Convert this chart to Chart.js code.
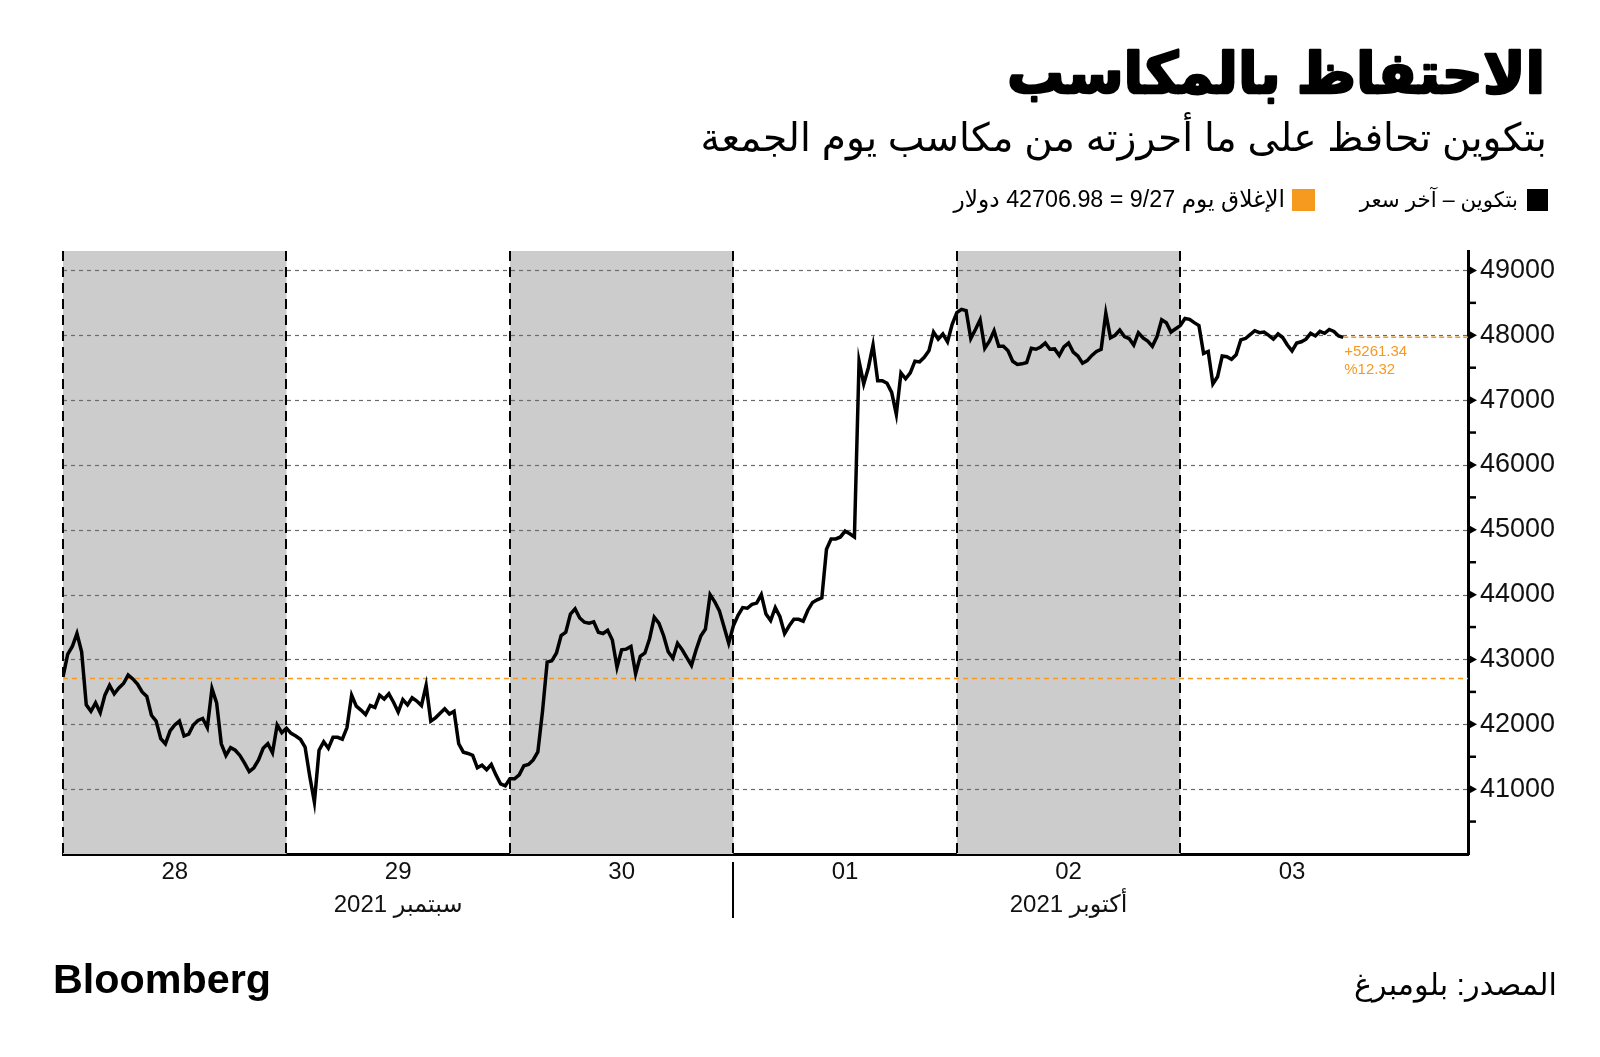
<!DOCTYPE html>
<html lang="ar">
<head>
<meta charset="utf-8">
<script src="https://cdn.jsdelivr.net/npm/chart.js@4.4.1/dist/chart.umd.min.js"></script>
<style>
html,body{margin:0;padding:0;background:#fff;}
#chart{position:absolute;left:0;top:0;}
</style>
</head>
<body>
<canvas id="chart" width="1600" height="1057"></canvas>
<script>

// bitcoin price, one reading every half hour from 28 Sep 00:00
const STEP_HOURS=0.5;

const prices=[
// 28 Sep
42730,43080,43200,43400,43120,42300,42200,42330,42180,42450,
42600,42470,42560,42630,42760,42700,42620,42500,42430,42140,
42050,41780,41700,41900,41990,42050,41820,41850,41990,42060,
42090,41950,42550,42330,41700,41520,41640,41600,41520,41400,
41270,41330,41450,41630,41700,41560,41990,41870,
// 29 Sep
41940,41860,41820,41770,41650,41200,40800,41600,41730,41630,
41800,41800,41770,41950,42450,42280,42220,42150,42290,42260,
42450,42390,42470,42340,42190,42380,42300,42410,42360,42290,
42600,42050,42100,42170,42240,42160,42200,41700,41570,41550,
41520,41330,41370,41300,41380,41220,41080,41050,
// 30 Sep
41160,41160,41220,41360,41380,41450,41575,42200,42960,42980,
43100,43370,43420,43700,43780,43640,43575,43560,43580,43420,
43400,43450,43300,42880,43150,43160,43200,42780,43050,43100,
43320,43650,43560,43370,43120,43020,43250,43150,43030,42910,
43150,43360,43470,44000,43890,43750,43500,43250,
// 01 Oct
43520,43680,43800,43790,43850,43870,44000,43700,43600,43800,
43660,43400,43520,43620,43620,43590,43760,43880,43920,43950,
44700,44860,44860,44890,44980,44940,44890,47600,47250,47500,
47850,47300,47300,47260,47120,46780,47420,47330,47420,47600,
47590,47660,47760,48050,47940,48020,47900,48170,
// 02 Oct
48350,48400,48380,47950,48090,48240,47800,47910,48070,47830,
47830,47760,47600,47550,47560,47580,47800,47785,47820,47880,
47785,47790,47690,47820,47880,47740,47680,47570,47610,47690,
47750,47785,48340,47960,48000,48080,47980,47950,47850,48040,
47960,47910,47830,47980,48240,48195,48050,48100,
// 03 Oct
48150,48260,48245,48195,48150,47720,47750,47250,47360,47680,
47670,47630,47700,47930,47950,48010,48070,48040,48050,48000,
47940,48020,47965,47850,47760,47880,47900,47940,48030,47990,
48060,48030,48090,48060,47990,47968.32
];

const closeSep27=42706.98;
const lastPrice=47968.32;
const changeText="+5261.34";
const changePct="%12.32";

const dayStarts=[0,24,48,72,96,120];
const shadedDays=[0,2,4];
const dayCenters=[12,36,60,84,108,132];
const dayLabels=["28","29","30","01","02","03"];
const monthLabels=[{at:36,text:"سبتمبر 2021"},{at:108,text:"أكتوبر 2021"}];
const monthBreak=72;

const yTicks=[41000,42000,43000,44000,45000,46000,47000,48000,49000];
const yMinor=[40500,41500,42500,43500,44500,45500,46500,47500,48500];
const Y_MIN=40000, Y_MAX=49300, X_MAX=150.9;

const ORANGE="#f59a1f";
const AR="'Liberation Sans','DejaVu Sans',sans-serif";

const pricePoints=prices.map((p,i)=>({x:i*STEP_HOURS,y:p}));
const lastHour=(prices.length-1)*STEP_HOURS;

function fitSize(ctx,text,weight,family,target){
ctx.font=weight+" 100px "+family;
const w=ctx.measureText(text).width;
return 100*target/w;
}

function rtlText(ctx,text,right,baseline,weight,target,color,stroke){
const size=fitSize(ctx,text,weight,AR,target);
ctx.font=weight+" "+size.toFixed(1)+"px "+AR;
ctx.direction="rtl";
ctx.textAlign="right";
ctx.textBaseline="alphabetic";
ctx.fillStyle=color;
ctx.fillText(text,right,baseline);
if(stroke){
ctx.strokeStyle=color;
ctx.lineWidth=stroke;
ctx.lineJoin="round";
ctx.strokeText(text,right,baseline);
}
}

const decor={
id:"decor",
beforeDatasetsDraw(chart){
const {ctx,chartArea:a,scales:{x,y}}=chart;
ctx.save();
// shaded days
ctx.fillStyle="#cccccc";
shadedDays.forEach(d=>{
const x0=x.getPixelForValue(dayStarts[d]);
const x1=x.getPixelForValue(dayStarts[d]+24);
ctx.fillRect(x0,a.top,x1-x0,a.bottom-a.top);
});
// horizontal grid
ctx.strokeStyle="#6b6b6b";
ctx.lineWidth=1.2;
ctx.setLineDash([4,4]);
yTicks.forEach(v=>{
const py=Math.round(y.getPixelForValue(v))+0.5;
ctx.beginPath();ctx.moveTo(a.left,py);ctx.lineTo(a.right,py);ctx.stroke();
});
// day separators
ctx.strokeStyle="#000";
ctx.lineWidth=2;
ctx.setLineDash([10,6]);
dayStarts.forEach(h=>{
const px=Math.round(x.getPixelForValue(h));
ctx.beginPath();ctx.moveTo(px,a.top);ctx.lineTo(px,a.bottom);ctx.stroke();
});
ctx.restore();
},
afterDraw(chart){
const {ctx,chartArea:a,scales:{x,y}}=chart;
ctx.save();
// y axis marks
ctx.fillStyle="#000";
yTicks.forEach(v=>{
const py=y.getPixelForValue(v);
ctx.beginPath();
ctx.moveTo(a.right,py-5);ctx.lineTo(a.right+9,py);ctx.lineTo(a.right,py+5);
ctx.closePath();ctx.fill();
});
ctx.strokeStyle="#000";
ctx.lineWidth=2.5;
yMinor.forEach(v=>{
const py=y.getPixelForValue(v);
ctx.beginPath();ctx.moveTo(a.right,py);ctx.lineTo(a.right+8,py);ctx.stroke();
});
// month break
const mx=Math.round(x.getPixelForValue(monthBreak));
ctx.lineWidth=2;
ctx.beginPath();ctx.moveTo(mx,a.bottom+8);ctx.lineTo(mx,a.bottom+64);ctx.stroke();
// month labels
ctx.font="24px "+AR;
ctx.fillStyle="#111";
ctx.direction="rtl";
ctx.textAlign="center";
ctx.textBaseline="middle";
monthLabels.forEach(m=>{
ctx.fillText(m.text,x.getPixelForValue(m.at),a.bottom+51);
});
// change note
const lx=x.getPixelForValue(lastHour);
const ly=y.getPixelForValue(lastPrice);
ctx.direction="ltr";
ctx.textAlign="left";
ctx.textBaseline="alphabetic";
ctx.fillStyle=ORANGE;
ctx.font="15px 'Liberation Sans',sans-serif";
ctx.fillText(changeText,lx+1,ly+19);
ctx.fillText(changePct,lx+1,ly+37);

// headings
rtlText(ctx,"الاحتفاظ بالمكاسب",1545,93,"bold",538,"#000",2.5);
rtlText(ctx,"بتكوين تحافظ على ما أحرزته من مكاسب يوم الجمعة",1547,151,"normal",847,"#000");
// legend
ctx.fillStyle="#000";
ctx.fillRect(1527,189,21,22);
rtlText(ctx,"بتكوين – آخر سعر",1518,207,"normal",158,"#000");
ctx.fillStyle=ORANGE;
ctx.fillRect(1292,189,23,22);
rtlText(ctx,"الإغلاق يوم 9/27 = "+closeSep27+" دولار",1285,207,"normal",331,"#000");
// footer
rtlText(ctx,"المصدر: بلومبرغ",1557,995,"normal",203,"#000");
ctx.direction="ltr";
ctx.textAlign="left";
ctx.fillStyle="#000";
const bs=fitSize(ctx,"Bloomberg","bold","'Liberation Sans',sans-serif",218);
ctx.font="bold "+bs.toFixed(1)+"px 'Liberation Sans',sans-serif";
ctx.fillText("Bloomberg",53,993);
ctx.restore();
}
};

new Chart(document.getElementById("chart"),{
type:"line",
data:{
datasets:[
{
data:pricePoints,
borderColor:"#000",
borderWidth:3.5,
borderJoinStyle:"miter",
pointRadius:0,
tension:0,
order:0
},
{
data:[{x:0,y:closeSep27},{x:X_MAX,y:closeSep27}],
borderColor:ORANGE,
borderWidth:1.5,
borderDash:[5,4],
pointRadius:0,
order:1
},
{
data:[{x:lastHour,y:lastPrice},{x:X_MAX,y:lastPrice}],
borderColor:ORANGE,
borderWidth:1.5,
borderDash:[5,3],
pointRadius:0,
order:1
}
]
},
options:{
responsive:false,
animation:false,
devicePixelRatio:1,
events:[],
layout:{padding:{left:63,top:251,right:0,bottom:143}},
plugins:{legend:{display:false},tooltip:{enabled:false}},
scales:{
x:{
type:"linear",
min:0,
max:X_MAX,
afterBuildTicks(s){s.ticks=dayCenters.map(v=>({value:v}));},
afterFit(s){s.height=60;},
grid:{display:false,drawTicks:false},
border:{display:true,color:"#000",width:3},
ticks:{
autoSkip:false,
maxRotation:0,
padding:4,
color:"#111",
font:{family:"'Liberation Sans',sans-serif",size:24},
callback:(v,i)=>dayLabels[i]
}
},
y:{
position:"right",
min:Y_MIN,
max:Y_MAX,
afterBuildTicks(s){s.ticks=yTicks.map(v=>({value:v}));},
afterFit(s){s.width=132;},
grid:{display:false,drawTicks:false},
border:{display:true,color:"#000",width:3},
ticks:{
padding:12,
color:"#111",
font:{family:"'Liberation Sans',sans-serif",size:27},
callback:v=>String(v)
}
}
}
},
plugins:[decor]
});

</script>
</body>
</html>
